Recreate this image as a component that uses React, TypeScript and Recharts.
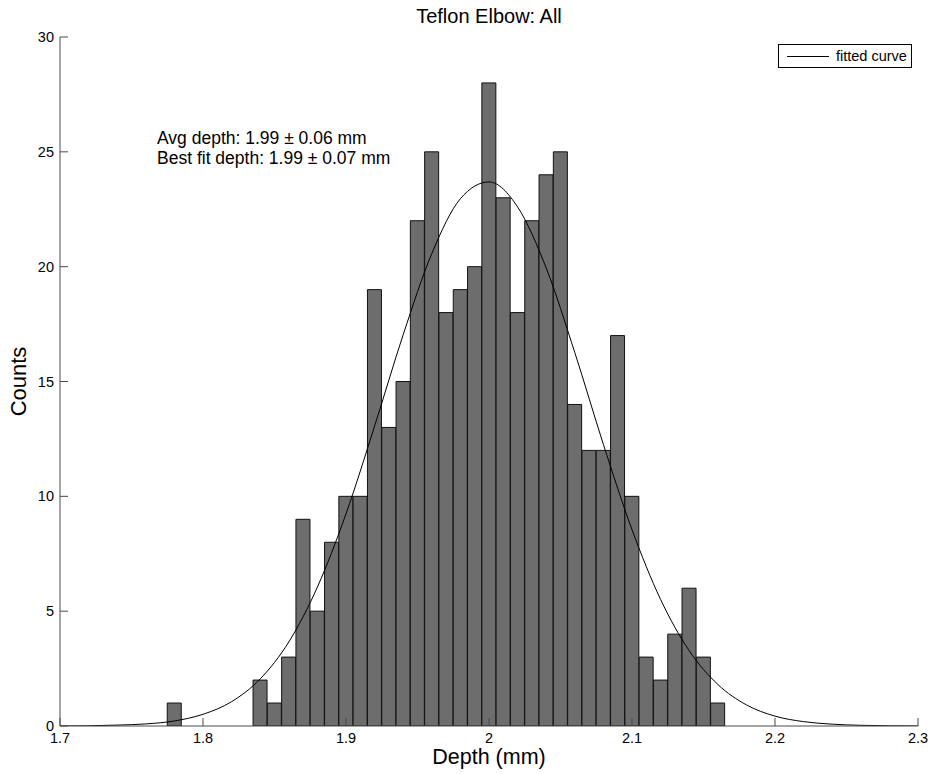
import React from 'react'
import { ComposedChart, Bar, Line, XAxis, YAxis, Label } from 'recharts'

// histogram bins (bin width 0.01 mm, value = bin centre)
const BIN_DEPTHS = [
  1.78, 1.84, 1.85, 1.86, 1.87, 1.88, 1.89, 1.9, 1.91, 1.92, 1.93, 1.94,
  1.95, 1.96, 1.97, 1.98, 1.99, 2.0, 2.01, 2.02, 2.03, 2.04, 2.05, 2.06,
  2.07, 2.08, 2.09, 2.1, 2.11, 2.12, 2.13, 2.14, 2.15, 2.16
]
const BIN_COUNTS = [
  1, 2, 1, 3, 9, 5, 8, 10, 10, 19, 13, 15,
  22, 25, 18, 19, 20, 28, 23, 18, 22, 24, 25, 14,
  12, 12, 17, 10, 3, 2, 4, 6, 3, 1
]

// fitted gaussian
const FIT_DEPTHS = [
  1.7, 1.72, 1.74, 1.76, 1.78, 1.8, 1.82, 1.84, 1.86, 1.88, 1.9, 1.92, 1.94, 1.96, 1.98, 2.0,
  2.02, 2.04, 2.06, 2.08, 2.1, 2.12, 2.14, 2.16, 2.18, 2.2, 2.22, 2.24, 2.26, 2.28, 2.3
]
const FIT_COUNTS = [
  0.0, 0.01, 0.04, 0.09, 0.22, 0.51, 1.06, 2.05, 3.66, 6.05, 9.24, 13.06, 17.04, 20.57, 22.96, 23.69,
  22.6, 19.94, 16.26, 12.26, 8.55, 5.51, 3.28, 1.81, 0.92, 0.43, 0.19, 0.08, 0.03, 0.01, 0.0
]

const X_TICKS = [1.7, 1.8, 1.9, 2, 2.1, 2.2, 2.3]
const Y_TICKS = [0, 5, 10, 15, 20, 25, 30]

const FONT = '"Liberation Sans", Arial, Helvetica, sans-serif'
const AXIS_COLOR = '#4a4a4a'

// merge bins and curve into one table keyed by depth
const rowMap = new Map<string, { depth: number; count?: number; fit?: number }>()
BIN_DEPTHS.forEach((d, i) => {
  const k = d.toFixed(2)
  rowMap.set(k, { ...(rowMap.get(k) || { depth: d }), count: BIN_COUNTS[i] })
})
FIT_DEPTHS.forEach((d, i) => {
  const k = d.toFixed(2)
  rowMap.set(k, { ...(rowMap.get(k) || { depth: d }), fit: FIT_COUNTS[i] })
})
const chartData = Array.from(rowMap.values()).sort((a, b) => a.depth - b.depth)

const XTick = ({ x, y, payload }: any) => (
  <g>
    <line x1={x} y1={y} x2={x} y2={y - 8} stroke={AXIS_COLOR} />
    <text x={x} y={y + 17} textAnchor="middle" fontSize={14.5} fontFamily={FONT} fill="#000">
      {payload.value}
    </text>
  </g>
)

const YTick = ({ x, y, payload }: any) => (
  <g>
    <line x1={x} y1={y} x2={x + 8} y2={y} stroke={AXIS_COLOR} />
    <text x={x - 6} y={y + 5} textAnchor="end" fontSize={14.5} fontFamily={FONT} fill="#000">
      {payload.value}
    </text>
  </g>
)

// legend drawn as an overlay so it doesn't eat into the plot area
const LegendBox = () => (
  <div
    style={{
      position: 'absolute',
      left: 778,
      top: 44,
      display: 'flex',
      alignItems: 'center',
      border: '1px solid #000',
      background: '#fff',
      height: 22,
      width: 132,
      boxSizing: 'content-box',
      fontFamily: FONT,
      fontSize: 14.5,
      color: '#000',
      zIndex: 2
    }}
  >
    <span style={{ display: 'inline-block', width: 42, height: 0, borderTop: '1px solid #000', marginLeft: 8, marginRight: 7 }} />
    <span>fitted curve</span>
  </div>
)

export default function App() {
  return (
    <div style={{ position: 'absolute', left: 0, top: 0, width: 930, height: 774, background: '#fff' }}>
      <ComposedChart
        width={930}
        height={774}
        data={chartData}
        margin={{ top: 37, right: 12, bottom: 0, left: 0 }}
        barCategoryGap={0}
        barGap={0}
      >
        <XAxis
          dataKey="depth"
          type="number"
          domain={[1.7, 2.3]}
          ticks={X_TICKS}
          allowDataOverflow
          height={48}
          tickLine={false}
          tickSize={0}
          tickMargin={0}
          tick={<XTick />}
          axisLine={{ stroke: AXIS_COLOR }}
        >
          <Label
            value="Depth (mm)"
            position="insideBottom"
            offset={10}
            style={{ fontFamily: FONT, fontSize: 21.5, fill: '#000' }}
          />
        </XAxis>
        <YAxis
          type="number"
          domain={[0, 30]}
          ticks={Y_TICKS}
          allowDataOverflow
          width={60}
          tickLine={false}
          tickSize={0}
          tickMargin={0}
          tick={<YTick />}
          axisLine={{ stroke: AXIS_COLOR }}
        >
          <Label
            value="Counts"
            angle={-90}
            position="insideLeft"
            offset={18}
            style={{ fontFamily: FONT, fontSize: 22, fill: '#000', textAnchor: 'middle' }}
          />
        </YAxis>
        <Bar
          dataKey="count"
          name="counts"
          fill="#6d6d6d"
          stroke="#111"
          strokeWidth={1}
          isAnimationActive={false}
        />
        <Line
          dataKey="fit"
          name="fitted curve"
          type="monotone"
          stroke="#000"
          strokeWidth={1}
          dot={false}
          activeDot={false}
          connectNulls
          isAnimationActive={false}
        />
      </ComposedChart>
      <div
        style={{
          position: 'absolute',
          left: 60,
          width: 858,
          top: 5,
          textAlign: 'center',
          fontFamily: FONT,
          fontSize: 20,
          lineHeight: '22px',
          color: '#000'
        }}
      >
        Teflon Elbow: All
      </div>
      <div
        style={{
          position: 'absolute',
          left: 157,
          top: 128,
          fontFamily: FONT,
          fontSize: 17.5,
          lineHeight: '20px',
          color: '#000',
          whiteSpace: 'nowrap'
        }}
      >
        <div>Avg depth: 1.99 ± 0.06 mm</div>
        <div>Best fit depth: 1.99 ± 0.07 mm</div>
      </div>
      <LegendBox />
    </div>
  )
}
